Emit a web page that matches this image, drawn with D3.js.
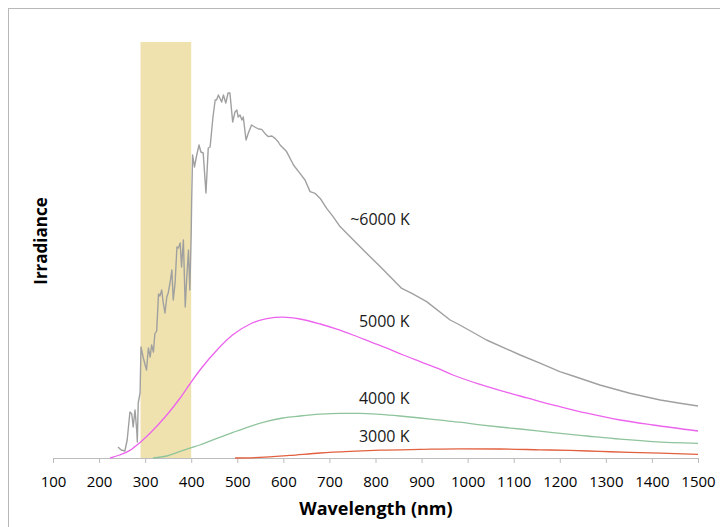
<!DOCTYPE html>
<html lang="en">
<head>
    <meta charset="UTF-8">
    <title>Solar spectrum vs blackbody curves</title>
    <style>
        body {
            margin: 0;
            padding: 0;
            background: #fff;
            font-family: "Open Sans", Arial, sans-serif;
        }
    </style>
</head>
<body>
    <svg id="chart"></svg>
    <script src="https://d3js.org/d3.v7.min.js"></script>
    <script>
        // wavelength (nm) / irradiance
        const sunWl = [241, 248, 256, 261, 267, 271, 274, 278, 282, 283, 285, 289, 291, 296, 303, 307, 311, 314, 318, 321,
            325, 329, 332, 336, 339, 343, 347, 350, 354, 358, 361, 365, 369, 372, 376, 379, 383, 387, 390, 394,
            397, 400, 401, 403, 407, 412, 417, 421, 426, 432, 437, 441, 447, 452, 455, 459, 462, 466, 470, 475,
            480, 484, 490, 495, 499, 502, 506, 510, 513, 519, 524, 531, 538, 546, 553, 560, 567, 575, 582, 589,
            593, 607, 622, 636, 647, 658, 669, 680, 694, 708, 723, 738, 752, 766, 810, 857, 879, 911, 962, 983,
            1041, 1114, 1157, 1200, 1229, 1287, 1352, 1418, 1461, 1500];
        const sunVal = [0.055, 0.040, 0.035, 0.090, 0.230, 0.220, 0.155, 0.240, 0.130, 0.080, 0.275, 0.325, 0.555, 0.500, 0.440, 0.550, 0.505, 0.565, 0.530, 0.620,
            0.635, 0.820, 0.810, 0.840, 0.780, 0.725, 0.805, 0.825, 0.875, 0.940, 0.790, 0.875, 1.055, 1.050, 1.075, 0.955, 1.090, 0.755, 0.890, 1.040,
            0.840, 1.125, 1.290, 1.515, 1.455, 1.515, 1.565, 1.530, 1.525, 1.325, 1.550, 1.555, 1.700, 1.790, 1.790, 1.815, 1.800, 1.780, 1.815, 1.775,
            1.825, 1.825, 1.680, 1.730, 1.740, 1.705, 1.715, 1.690, 1.705, 1.590, 1.625, 1.665, 1.655, 1.645, 1.643, 1.623, 1.607, 1.610, 1.598, 1.580,
            1.565, 1.532, 1.465, 1.423, 1.390, 1.332, 1.323, 1.298, 1.248, 1.207, 1.157, 1.123, 1.090, 1.057, 0.957, 0.848, 0.823, 0.782, 0.690, 0.665,
            0.590, 0.515, 0.474, 0.432, 0.410, 0.365, 0.324, 0.290, 0.274, 0.260];

        const bb5000Wl = [224, 245, 267, 289, 311, 347, 376, 397, 419, 456, 491, 528, 564, 599, 636, 680, 716, 751, 788, 825,
            860, 897, 934, 968, 1027, 1070, 1114, 1157, 1200, 1259, 1331, 1402, 1500];
        const bb5000Val = [0, 0.015, 0.038, 0.078, 0.125, 0.215, 0.300, 0.370, 0.440, 0.540, 0.617, 0.670, 0.697, 0.704, 0.695, 0.670, 0.644, 0.615, 0.582, 0.549,
            0.515, 0.482, 0.449, 0.415, 0.368, 0.338, 0.310, 0.282, 0.257, 0.224, 0.190, 0.165, 0.135];

        const bb4000Wl = [317, 347, 376, 397, 419, 456, 491, 528, 564, 599, 636, 680, 723, 766, 810, 853, 897, 940, 983, 1027,
            1070, 1114, 1185, 1259, 1331, 1402, 1500];
        const bb4000Val = [0, 0.010, 0.033, 0.049, 0.065, 0.098, 0.128, 0.158, 0.183, 0.200, 0.210, 0.219, 0.223, 0.223, 0.218, 0.210, 0.200, 0.189, 0.179, 0.166,
            0.155, 0.145, 0.127, 0.110, 0.094, 0.082, 0.073];

        const bb3000Wl = [495, 549, 614, 680, 745, 810, 897, 983, 1070, 1157, 1222, 1287, 1352, 1418, 1500];
        const bb3000Val = [0, 0.003, 0.013, 0.025, 0.033, 0.039, 0.043, 0.046, 0.045, 0.041, 0.038, 0.033, 0.028, 0.024, 0.018];

        const curveNames = ["~6000 K", "5000 K", "4000 K", "3000 K"];
        const curveColors = ["#a0a0a0", "#ec63ee", "#8fc49c", "#e2603f"];

        const xTicks = d3.range(100, 1501, 100);
        const uvBand = [290, 400];

        const width = 720, height = 527;
        const svg = d3.select("#chart").attr("width", width).attr("height", height);

        // outer frame
        svg.append("rect")
            .attr("x", 8.5).attr("y", 8.5)
            .attr("width", width).attr("height", height)
            .attr("fill", "none")
            .attr("stroke", "#b8b8b8");

        const x = d3.scaleLinear().domain([100, 1500]).range([53, 698]);
        const y = d3.scaleLinear().domain([0, 2.08]).range([458, 42]);

        // UV band
        svg.append("rect")
            .attr("x", x(uvBand[0]))
            .attr("y", y(2.08))
            .attr("width", x(uvBand[1]) - x(uvBand[0]))
            .attr("height", y(0) - y(2.08))
            .attr("fill", "#efe2ae");

        const series = [
            d3.zip(sunWl, sunVal),
            d3.zip(bb5000Wl, bb5000Val),
            d3.zip(bb4000Wl, bb4000Val),
            d3.zip(bb3000Wl, bb3000Val)
        ];

        const sunLine = d3.line()
            .x(d => x(d[0]))
            .y(d => y(d[1]));
        const smoothLine = d3.line()
            .curve(d3.curveMonotoneX)
            .x(d => x(d[0]))
            .y(d => y(d[1]));

        // axis
        const axis = svg.append("g")
            .attr("transform", "translate(0," + y(0) + ")")
            .call(d3.axisBottom(x).tickValues(xTicks).tickFormat(d3.format("d")).tickSize(5).tickSizeOuter(0).tickPadding(13));
        axis.select(".domain").attr("stroke", "#bcbcbc");
        axis.selectAll(".tick line").attr("stroke", "#bcbcbc");
        axis.selectAll(".tick text")
            .attr("fill", "#000")
            .style("font-family", "'Open Sans', sans-serif")
            .style("font-size", "15px");

        svg.append("g")
            .selectAll("path")
            .data(series)
            .enter().append("path")
            .attr("d", (d, i) => i === 0 ? sunLine(d) : smoothLine(d))
            .attr("fill", "none")
            .attr("stroke", (d, i) => curveColors[i])
            .attr("stroke-width", (d, i) => i === 0 ? 1.4 : 1.3)
            .attr("stroke-linejoin", "round");

        // curve labels, anchored in data units
        const labelAt = [[745, 1.165], [764, 0.655], [764, 0.27], [764, 0.08]];
        svg.append("g")
            .selectAll("text")
            .data(curveNames)
            .enter().append("text")
            .attr("x", (d, i) => x(labelAt[i][0]))
            .attr("y", (d, i) => y(labelAt[i][1]))
            .attr("font-size", 16)
            .attr("fill", "#1a1a1a")
            .text(d => d);

        svg.append("text")
            .attr("x", 376)
            .attr("y", 515)
            .attr("text-anchor", "middle")
            .attr("font-size", 18)
            .attr("font-weight", "bold")
            .text("Wavelength (nm)");

        svg.append("text")
            .attr("transform", "translate(47,241) rotate(-90)")
            .attr("text-anchor", "middle")
            .attr("font-size", 17)
            .attr("font-weight", "bold")
            .text("Irradiance");
    </script>
</body>
</html>
